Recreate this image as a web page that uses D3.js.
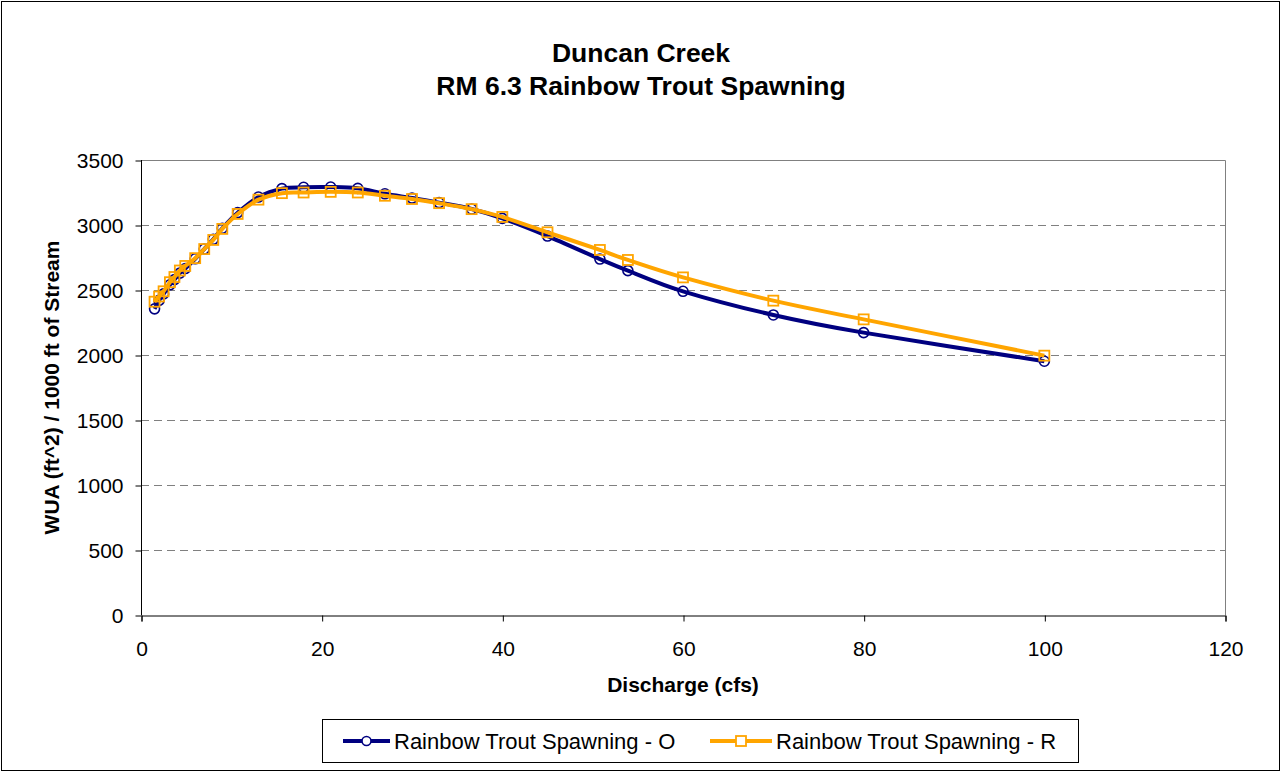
<!DOCTYPE html>
<html><head><meta charset="utf-8">
<script src="https://cdn.jsdelivr.net/npm/d3@7"></script>
<style>body{margin:0;background:#fff}svg{display:block}text{font-family:"Liberation Sans",Arial,sans-serif}</style>
</head><body>
<script>
const discharge = [1.5, 2, 2.5, 3.2, 3.7, 4.3, 4.9, 6, 7, 8, 9, 10.7, 13, 15.6, 18, 21, 24, 27, 30, 33, 36.6, 40, 45, 50.8, 53.9, 60, 70, 80, 100];
const seriesO = [2355, 2420, 2470, 2540, 2580, 2630, 2665, 2740, 2815, 2890, 2975, 3095, 3215, 3280, 3290, 3292, 3282, 3240, 3207, 3172, 3123, 3051, 2915, 2738, 2649, 2490, 2308, 2172, 1952];
const seriesR = [2410, 2450, 2490, 2560, 2600, 2650, 2685, 2745, 2815, 2885, 2970, 3085, 3195, 3245, 3250, 3255, 3250, 3225, 3200, 3168, 3122, 3062, 2944, 2808, 2731, 2597, 2418, 2274, 1995];
const xTicks = [0, 20, 40, 60, 80, 100, 120];
const yTicks = [0, 500, 1000, 1500, 2000, 2500, 3000, 3500];
const titleLines = ["Duncan Creek", "RM 6.3 Rainbow Trout Spawning"];
const seriesNames = ["Rainbow Trout Spawning - O", "Rainbow Trout Spawning - R"];

const W = 1282, H = 773;
const svg = d3.select("body").append("svg").attr("width", W).attr("height", H);
svg.append("rect").attr("x", 1.5).attr("y", 1.5).attr("width", W - 4).attr("height", H - 4)
  .attr("fill", "#fff").attr("stroke", "#000").attr("stroke-width", 1);

const L = 141, R = 1225, T = 160, B = 615;
const x = d3.scaleLinear().domain([0, 120]).range([L, R]);
const y = d3.scaleLinear().domain([0, 3500]).range([B, T]);

// gridlines
svg.append("g").selectAll("line").data(yTicks.filter(v => v > 0 && v < 3500)).join("line")
  .attr("x1", L).attr("x2", R).attr("y1", d => y(d) + 0.5).attr("y2", d => y(d) + 0.5)
  .attr("stroke", "#808080").attr("stroke-width", 1).attr("stroke-dasharray", "8,5");
// plot border top/right
svg.append("path").attr("d", `M${L},${T + 0.5}H${R + 0.5}V${B}`).attr("fill", "none").attr("stroke", "#808080");

// axes
const yAxis = d3.axisLeft(y).tickValues(yTicks).tickFormat(d3.format("d")).tickSize(6);
const gy = svg.append("g").attr("transform", `translate(${L + 0.5},0.5)`).call(yAxis);
const xAxis = d3.axisBottom(x).tickValues(xTicks).tickFormat(d3.format("d")).tickSize(6);
const gx = svg.append("g").attr("transform", `translate(0.5,${B + 0.5})`).call(xAxis);
[gx, gy].forEach(g => {
  g.select(".domain").attr("stroke", "#000");
  g.selectAll(".tick line").attr("stroke", "#000");
  g.selectAll("text").attr("font-size", 21).attr("fill", "#000").attr("font-family", '"Liberation Sans",Arial,sans-serif');
});
gy.selectAll(".domain").attr("d", `M0,${T - 0.5}V${B}`);
gy.selectAll(".tick text").attr("x", -18).attr("dy", "0.35em");
gx.selectAll(".tick text").attr("y", 0).attr("dy", 0).attr("transform", "translate(0,40)");

// titles
svg.append("text").attr("x", 641).attr("y", 62).attr("text-anchor", "middle")
  .attr("font-size", 26.5).attr("font-weight", "bold").text(titleLines[0]);
svg.append("text").attr("x", 641).attr("y", 95).attr("text-anchor", "middle")
  .attr("font-size", 26.5).attr("font-weight", "bold").text(titleLines[1]);
svg.append("text").attr("x", (L + R) / 2).attr("y", 692).attr("text-anchor", "middle")
  .attr("font-size", 21).attr("font-weight", "bold").text("Discharge (cfs)");
svg.append("text").attr("transform", `translate(59,${(T + B) / 2}) rotate(-90)`).attr("text-anchor", "middle")
  .attr("font-size", 21).attr("font-weight", "bold").text("WUA (ft^2) / 1000 ft of Stream");

const colors = ["#000080", "#FFA500"];
const line = d3.line().x(d => x(d[0])).y(d => y(d[1])).curve(d3.curveCardinal.tension(0));
const dataO = discharge.map((d, i) => [d, seriesO[i]]);
const dataR = discharge.map((d, i) => [d, seriesR[i]]);

function drawSeries(data, color, shape) {
  svg.append("path").datum(data).attr("d", line).attr("fill", "none")
    .attr("stroke", color).attr("stroke-width", 4).attr("stroke-linejoin", "round");
  const g = svg.append("g");
  if (shape === "circle") {
    g.selectAll("circle").data(data).join("circle").attr("cx", d => x(d[0])).attr("cy", d => y(d[1]))
      .attr("r", 5).attr("fill", "none").attr("stroke", color).attr("stroke-width", 1.6);
  } else {
    g.selectAll("rect").data(data).join("rect").attr("x", d => x(d[0]) - 5).attr("y", d => y(d[1]) - 5)
      .attr("width", 10).attr("height", 10).attr("fill", "none").attr("stroke", color).attr("stroke-width", 1.8);
  }
}
drawSeries(dataO, colors[0], "circle");
drawSeries(dataR, colors[1], "square");

// legend
const lg = svg.append("g");
lg.append("rect").attr("x", 322.5).attr("y", 719.5).attr("width", 756).attr("height", 43)
  .attr("fill", "#fff").attr("stroke", "#000");
const items = [{x0: 343, x1: 390, tx: 394, c: colors[0], s: "circle"}, {x0: 710, x1: 772, tx: 776, c: colors[1], s: "square"}];
items.forEach((it, i) => {
  const cy = 741;
  lg.append("line").attr("x1", it.x0).attr("x2", it.x1).attr("y1", cy).attr("y2", cy)
    .attr("stroke", it.c).attr("stroke-width", 4);
  const mx = (it.x0 + it.x1) / 2;
  if (it.s === "circle") lg.append("circle").attr("cx", mx).attr("cy", cy).attr("r", 4.5)
    .attr("fill", "#fff").attr("stroke", it.c).attr("stroke-width", 1.6);
  else lg.append("rect").attr("x", mx - 5).attr("y", cy - 5).attr("width", 10).attr("height", 10)
    .attr("fill", "#fff").attr("stroke", it.c).attr("stroke-width", 1.8);
  lg.append("text").attr("x", it.tx).attr("y", 749).attr("font-size", 22).text(seriesNames[i]);
});
</script>
</body></html>
